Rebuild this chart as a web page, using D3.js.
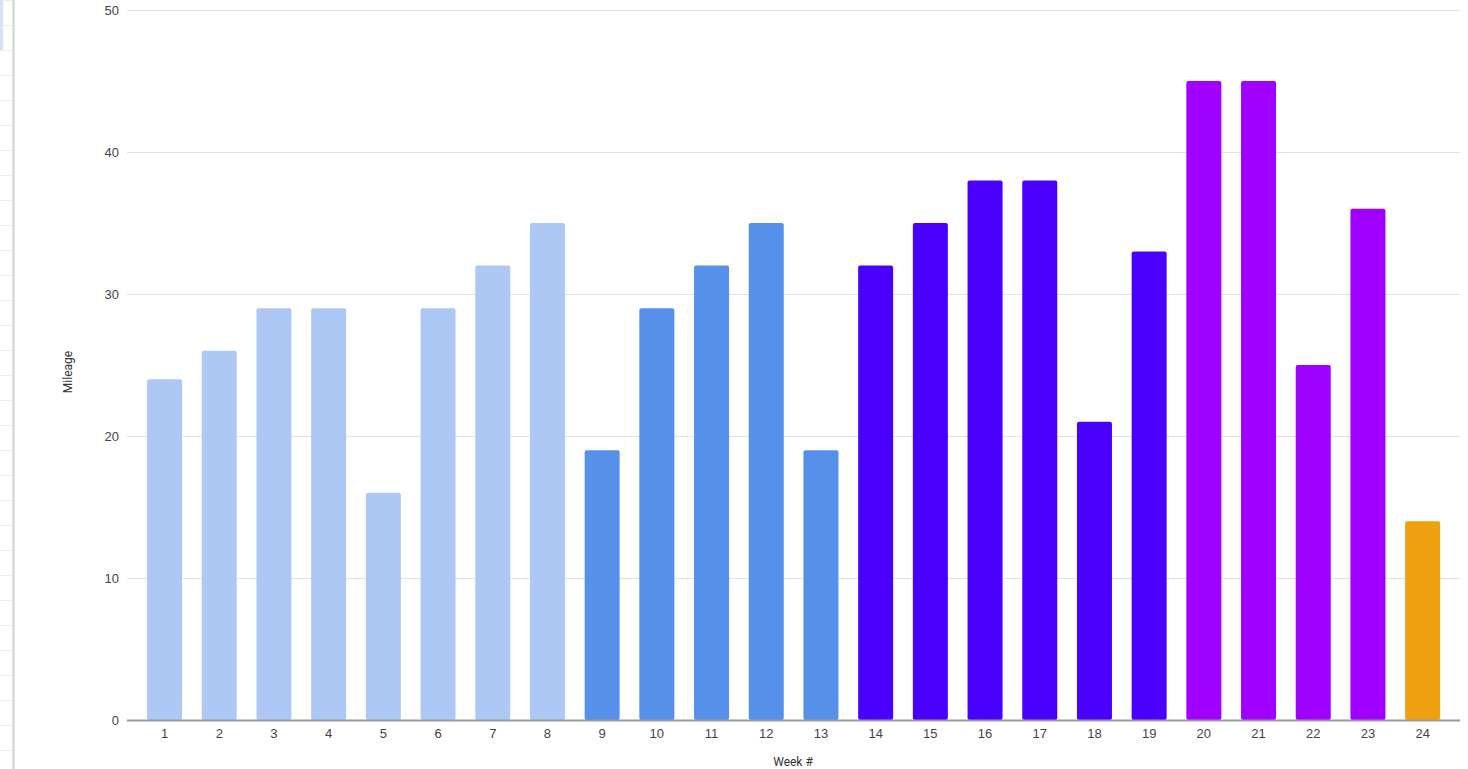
<!DOCTYPE html>
<html>
<head>
<meta charset="utf-8">
<script src="https://cdn.jsdelivr.net/npm/d3@7"></script>
<style>
  html, body { margin: 0; padding: 0; background: #fff; overflow: hidden; }
  svg { display: block; font-family: Roboto, Arial, "Liberation Sans", sans-serif; }
</style>
</head>
<body>
<svg id="chart" width="1468" height="769"></svg>
<script>
// ---- data ----
const weeks = ["1","2","3","4","5","6","7","8","9","10","11","12","13","14","15","16","17","18","19","20","21","22","23","24"];
const mileage = [24, 26, 29, 29, 16, 29, 32, 35, 19, 29, 32, 35, 19, 32, 35, 38, 38, 21, 33, 45, 45, 25, 36, 14];
const phase = [0,0,0,0,0,0,0,0, 1,1,1,1,1, 2,2,2,2,2,2, 3,3,3,3, 4];
const yTicks = [0, 10, 20, 30, 40, 50];
const xTitle = "Week #";
const yTitle = "Mileage";

// ---- styling ----
const phaseColors = ["#aec8f6", "#5690ea", "#4a00ff", "#a000ff", "#efa00e"];

const svg = d3.select("#chart");

// spreadsheet edge decoration on the left
const deco = svg.append("g");
deco.selectAll("line.h").data(d3.range(0, 769, 25)).join("line")
  .attr("x1", 0).attr("x2", 13).attr("y1", d => d + 0.5).attr("y2", d => d + 0.5)
  .attr("stroke", "#ececec");
deco.append("rect").attr("x", 0).attr("y", 0).attr("width", 3).attr("height", 50).attr("fill", "#d6e2f8");
deco.append("line").attr("x1", 13.5).attr("x2", 13.5).attr("y1", 0).attr("y2", 769)
  .attr("stroke", "#cfcfcf").attr("stroke-width", 2);

const plotLeft = 127, plotRight = 1460;
const x = d3.scaleBand().domain(weeks).range([137.2, 1450])
  .paddingInner(0.36).paddingOuter(0.18);
const y = d3.scaleLinear().domain([0, 50]).range([720, 10]);

// gridlines
svg.append("g").selectAll("line").data(yTicks.filter(d => d > 0)).join("line")
  .attr("x1", plotLeft).attr("x2", plotRight)
  .attr("y1", d => Math.round(y(d)) + 0.5).attr("y2", d => Math.round(y(d)) + 0.5)
  .attr("stroke", "#e2e2e2").attr("stroke-width", 1);

// y axis labels
const yAxis = d3.axisLeft(y).tickValues(yTicks).tickSize(0).tickPadding(0);
const gy = svg.append("g").attr("transform", "translate(119,0)").call(yAxis);
gy.select(".domain").remove();
gy.selectAll("text").attr("font-size", 13).attr("fill", "#444");

// bars
svg.append("g").selectAll("rect").data(weeks).join("rect")
  .attr("x", d => x(d))
  .attr("width", x.bandwidth())
  .attr("y", (d, i) => y(mileage[i]))
  .attr("height", (d, i) => y(0) - y(mileage[i]))
  .attr("rx", 2)
  .attr("fill", (d, i) => phaseColors[phase[i]]);

// x axis
const xAxis = d3.axisBottom(x).tickSize(0).tickPadding(9);
const gx = svg.append("g").attr("transform", `translate(0,${y(0)})`).call(xAxis);
gx.select(".domain").remove();
gx.selectAll("text").attr("font-size", 13).attr("fill", "#444");
svg.append("line").attr("x1", plotLeft).attr("x2", plotRight)
  .attr("y1", y(0) + 0.5).attr("y2", y(0) + 0.5)
  .attr("stroke", "#9a9a9a").attr("stroke-width", 2);

// axis titles
svg.append("text").text(yTitle)
  .attr("transform", "translate(72,372) rotate(-90)")
  .attr("text-anchor", "middle").attr("font-size", 12).attr("fill", "#333");
svg.append("text").text(xTitle)
  .attr("x", 793).attr("y", 766)
  .attr("text-anchor", "middle").attr("font-size", 12).attr("fill", "#333");
</script>
</body>
</html>
